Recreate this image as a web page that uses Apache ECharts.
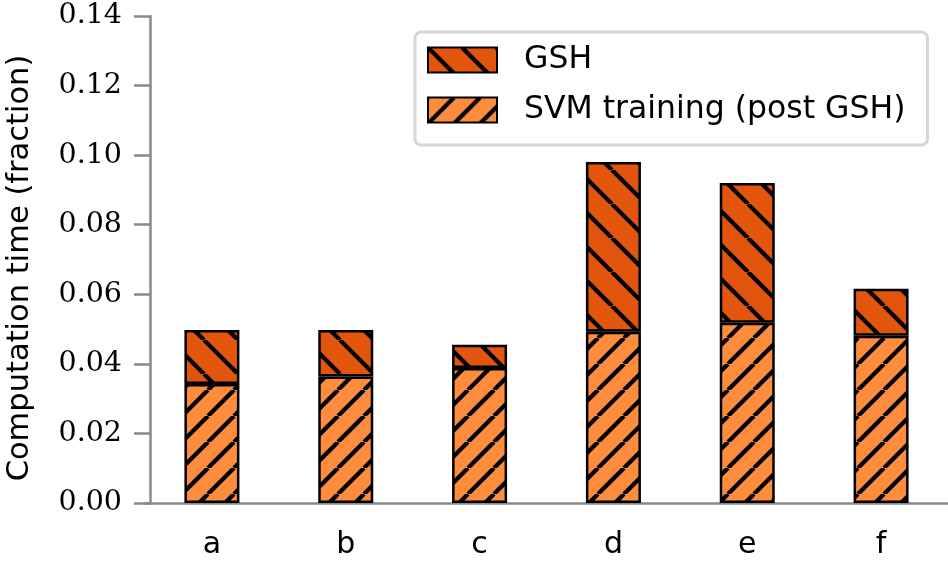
<!DOCTYPE html>
<html>
<head>
<meta charset="utf-8">
<script src="https://cdn.jsdelivr.net/npm/echarts@6/dist/echarts.min.js"></script>
<style>html,body{margin:0;padding:0;background:#fff}#c{width:948px;height:562px}</style>
</head>
<body>
<div id="c"></div>
<script>
const categories = ['a', 'b', 'c', 'd', 'e', 'f'];
const svmValues = [0.0342, 0.0364, 0.0388, 0.0492, 0.0518, 0.0481];
const gshValues = [0.0155, 0.0133, 0.0067, 0.0488, 0.0402, 0.0135];
const yTicks = [0, 0.02, 0.04, 0.06, 0.08, 0.10, 0.12, 0.14];
const seriesNames = ['GSH', 'SVM training (post GSH)'];
const yTitle = 'Computation time (fraction)';

function hatch(fill, dir, s) {
  const cv = document.createElement('canvas');
  cv.width = s; cv.height = s;
  const g = cv.getContext('2d');
  g.fillStyle = fill;
  g.fillRect(0, 0, s, s);
  g.strokeStyle = '#000';
  g.lineWidth = 4.2;
  g.lineCap = 'butt';
  for (let k = -1; k <= 1; k++) {
    g.beginPath();
    if (dir === '/') {
      g.moveTo(k * s, s); g.lineTo(k * s + s, 0);
    } else {
      g.moveTo(k * s, 0); g.lineTo(k * s + s, s);
    }
    g.stroke();
  }
  return { image: cv, repeat: 'repeat' };
}

const chart = echarts.init(document.getElementById('c'), null, { renderer: 'canvas' });
const axisGrey = '#888888';
chart.setOption({
  animation: false,
  backgroundColor: '#ffffff',
  grid: { left: 145, right: 0, top: 16, bottom: 59, containLabel: false, outerBoundsMode: 'none' },
  graphic: [{
    type: 'text',
    x: 20, y: 268,
    rotation: Math.PI / 2,
    style: {
      text: yTitle,
      fontFamily: 'DejaVu Sans', fontSize: 30.5, fill: '#000',
      align: 'center', verticalAlign: 'middle'
    }
  }],
  legend: {
    data: seriesNames,
    orient: 'vertical',
    left: 415, top: 32,
    icon: 'rect',
    itemWidth: 69, itemHeight: 25, itemGap: 18,
    padding: [12, 22, 19, 12],
    backgroundColor: '#ffffff',
    borderColor: '#d6d6d6', borderWidth: 3, borderRadius: 6,
    textStyle: { fontFamily: 'DejaVu Sans', fontSize: 31.5, lineHeight: 30, color: '#000', padding: [0, 0, 0, 22] },
    selectedMode: false
  },
  xAxis: {
    type: 'category',
    data: categories,
    axisLine: { lineStyle: { color: axisGrey, width: 2.5 } },
    axisTick: { alignWithLabel: true, length: 15, lineStyle: { color: axisGrey, width: 2.5 } },
    axisLabel: { fontFamily: 'DejaVu Sans', fontSize: 30, color: '#000', margin: 27 }
  },
  yAxis: {
    type: 'value',
    min: 0, max: 0.14, interval: 0.02,
    offset: -5,
    splitLine: { show: false },
    axisLine: { show: true, lineStyle: { color: axisGrey, width: 2.5 } },
    axisTick: { show: true, length: 16, lineStyle: { color: axisGrey, width: 2.5 } },
    axisLabel: {
      fontFamily: 'DejaVu Serif', fontSize: 28.5, color: '#000', margin: 28,
      formatter: v => {
        const t = yTicks.find(x => Math.abs(x - v) < 1e-9);
        return (t === undefined ? v : t).toFixed(2);
      }
    }
  },
  series: [
    {
      name: seriesNames[1], type: 'bar', stack: 'total', barWidth: 55,
      data: svmValues,
      itemStyle: { color: hatch('#FD8D3C', '/', 26), borderColor: '#000', borderWidth: 2.5 }
    },
    {
      name: seriesNames[0], type: 'bar', stack: 'total', barWidth: 55,
      data: gshValues,
      itemStyle: { color: hatch('#E1560C', '\\', 34), borderColor: '#000', borderWidth: 2.5 }
    }
  ]
});
</script>
</body>
</html>
